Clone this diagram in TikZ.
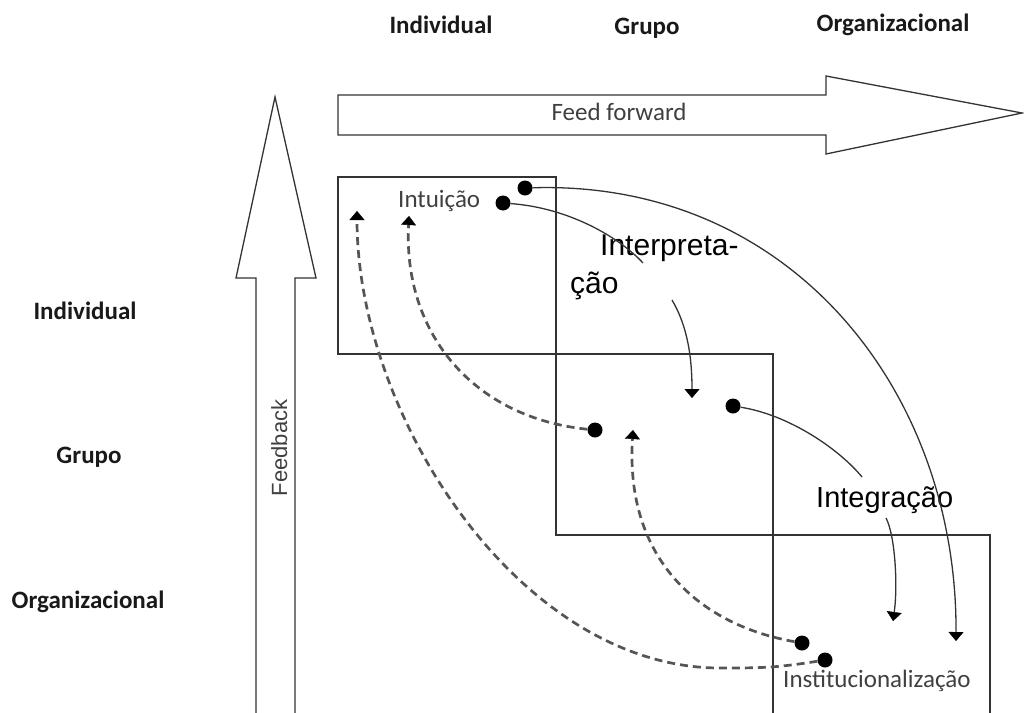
\documentclass[tikz,border=0pt]{standalone}
\usepackage{fontspec}
\setmainfont{Carlito}
\newfontfamily\arialf{Liberation Sans}
\usetikzlibrary{arrows.meta}
\definecolor{txtgray}{HTML}{404040}
\definecolor{linec}{HTML}{333333}
\definecolor{dashcol}{HTML}{555555}
\begin{document}
\begin{tikzpicture}[x=1pt,y=-1pt,
  boxst/.style={draw=linec, line width=1.3pt},
  bigarrow/.style={draw=linec, line width=1.3pt, fill=white, line join=miter},
  dotst/.style={circle, fill=black, inner sep=0pt, minimum size=15pt},
  solidc/.style={draw=linec, line width=1.3pt, -{Triangle[width=15pt,length=9pt,line width=0.4pt,color=black]}},
  dashedc/.style={draw=dashcol, line width=2.7pt, dash pattern=on 8pt off 5pt, -{Triangle[width=15pt,length=9pt,line width=0.4pt,color=black]}},
  lvl/.style={font=\fontsize{25}{30}\selectfont\bfseries, text=black!90, inner sep=0pt, anchor=base},
  small/.style={font=\fontsize{25}{30}\selectfont, text=txtgray, inner sep=0pt},
  big/.style={font=\arialf\fontsize{30}{35}\selectfont, text=black, inner sep=0pt, anchor=base west}
]
\useasboundingbox (0,0) rectangle (1024,712);

% level labels
\node[lvl] (ti) at (441,33) {Individual};
\node[lvl] (tg) at (647,34) {Grupo};
\node[lvl] (to) at (893,31) {Organizacional};
\node[lvl] (li) at (85,319) {Individual};
\node[lvl] (lg) at (89,463) {Grupo};
\node[lvl] (lo) at (88,608) {Organizacional};

% big arrows
\draw[bigarrow] (256,730) -- (256,278) -- (236,278) -- (275,97) -- (316,278) -- (295,278) -- (295,730);
\draw[bigarrow] (338,95) -- (826,95) -- (826,76) -- (1022,113) -- (826,154) -- (826,135) -- (338,135) -- cycle;
\node[small, anchor=base] (ff) at (619,120) {Feed forward};
\node[font=\arialf\fontsize{22}{26}\selectfont, text=txtgray, inner sep=0pt, anchor=base, rotate=90] (fb) at (287,448) {Feedback};

% boxes
\draw[boxst] (338,177) rectangle (556,354);
\draw[boxst] (556,354) rectangle (773,535);
\draw[boxst] (773,535) rectangle (990,730);

% texts
\node[small, anchor=base west] (intu) at (398,207) {Intuição};
\node[small, anchor=base west] (inst) at (783,687) {Institucionalização};
\node[big] (interp1) at (600,255) {Interpreta-};
\node[big] (interp2) at (570,293) {ção};
\node[big, font=\arialf\fontsize{29}{34}\selectfont] (integ) at (816,507) {Integração};

% dots
\node[dotst] (d1) at (525,188) {};
\node[dotst] (d2) at (503,203) {};
\node[dotst] (d3) at (595,430) {};
\node[dotst] (d4) at (733,406) {};
\node[dotst] (d5) at (802,643) {};
\node[dotst] (d6) at (825,660) {};

% arrow ends and breaks
\coordinate (t1) at (357,211);
\coordinate (t2) at (409,216);
\coordinate (t3) at (692,398);
\coordinate (t4) at (633,430);
\coordinate (t5) at (893,621);
\coordinate (t6) at (956,641);
\coordinate (b1) at (643,263);
\coordinate (b2) at (672,300);
\coordinate (b3) at (862,477);
\coordinate (b4) at (886,518);

% solid connectors
\draw[solidc] (d1) .. controls (790,180) and (957,390) .. (t6);
\draw[solidc] (d2) .. controls (570,208) and (620,238) .. (b1)
              (b2) .. controls (685,322) and (692,350) .. (t3);
\draw[solidc] (d4) .. controls (790,415) and (840,450) .. (b3)
              (b4) .. controls (895,535) and (898,585) .. (t5);

% dashed connectors
\draw[dashedc] (d3) .. controls (475,418) and (403,335) .. (t2);
\draw[dashedc] (d5) .. controls (700,625) and (625,560) .. (t4);
\draw[dashedc] (d6) .. controls (775,668) and (760,668) .. (720,668)
               .. controls (520,668) and (357,416) .. (t1);
\end{tikzpicture}
\end{document}
